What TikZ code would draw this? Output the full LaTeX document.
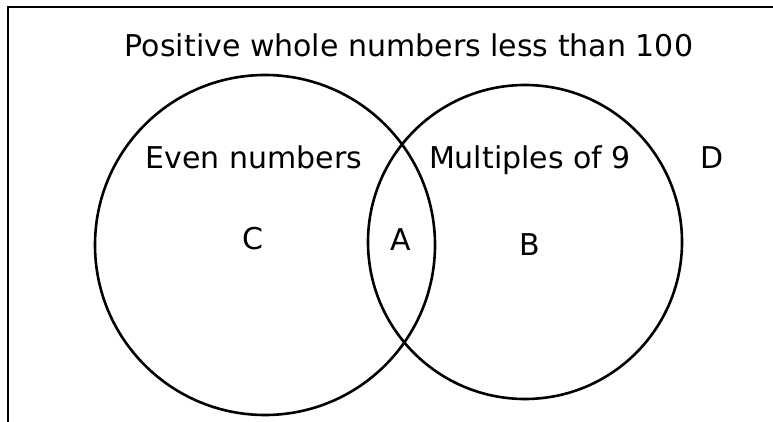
\documentclass[tikz,border=0pt]{standalone}
\usepackage{fontspec}
\setmainfont{DejaVu Sans}
\usetikzlibrary{positioning}

\begin{document}
\begin{tikzpicture}[x=1pt,y=-1pt,
  every node/.style={font=\fontsize{30}{34}\selectfont,inner sep=0pt},
  ring/.style={draw=black,line width=2.6pt},
  frame/.style={draw=black,line width=2.8pt},
  region/.style={font=\fontsize{30}{34}\selectfont}]
\useasboundingbox (0,0) rectangle (773,422);
\coordinate (tl) at (8,7);
\coordinate (tr) at (773,7);
\coordinate (bl) at (8,422);
\draw[frame] (bl) -- (tl) -- (tr);
\node (title) at (409,45) {Positive whole numbers less than 100};
\node[circle,ring,minimum size=340pt] (even) at (265,245) {};
\node[circle,ring,minimum size=314pt] (nine) at (525,242) {};
\node (evenlbl) at (254,157) {Even numbers};
\node (ninelbl) at (530,160) {Multiples of 9};
\node[region] (d) at (712,158) {D};
\node[region] (c) at (253,239) {C};
\node[region] (a) at (401,240) {A};
\node[region] (b) at (530,245) {B};
\end{tikzpicture}
\end{document}
